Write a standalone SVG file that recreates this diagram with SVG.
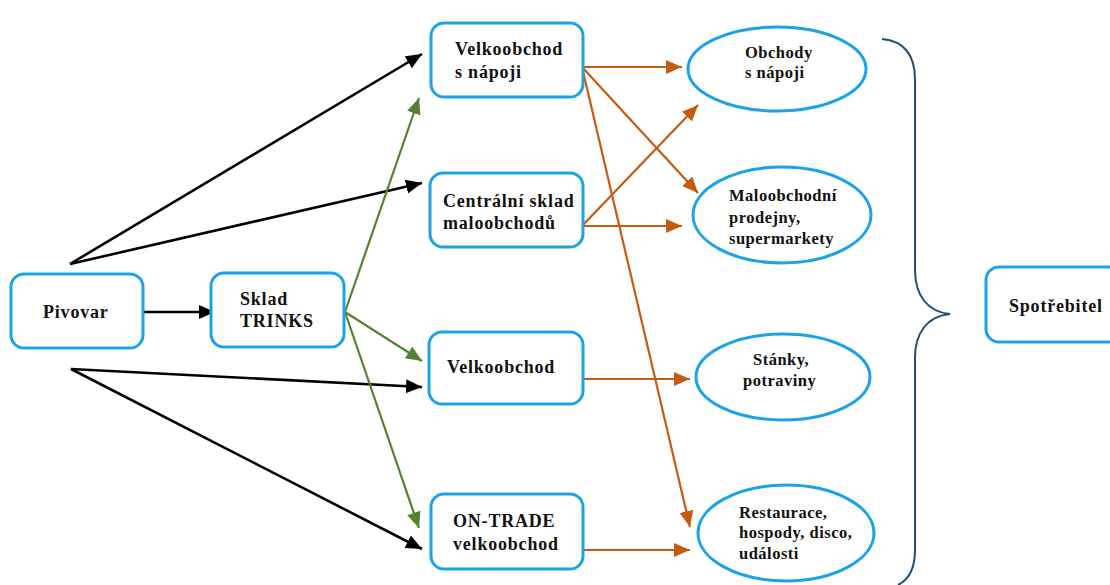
<svg xmlns="http://www.w3.org/2000/svg" width="1110" height="585" viewBox="0 0 1110 585">
<style>
.box{fill:#fff;stroke:#1AA3E6;stroke-width:3}
.t{font-family:"Liberation Serif","Times New Roman",serif;font-weight:bold;font-size:18px;letter-spacing:0.8px;fill:#111}
.te{font-family:"Liberation Serif","Times New Roman",serif;font-weight:bold;font-size:16.5px;letter-spacing:0.5px;fill:#111}
.blk{stroke:#000;stroke-width:2.6;fill:none}
.grn{stroke:#548235;stroke-width:2.2;fill:none}
.org{stroke:#C55A11;stroke-width:2.2;fill:none}
</style>
<defs>
<marker id="ab" markerUnits="userSpaceOnUse" markerWidth="20" markerHeight="20" refX="16" refY="7" orient="auto"><path d="M0,0 L16,7 L0,14 Z" fill="#000"/></marker>
<marker id="ag" markerUnits="userSpaceOnUse" markerWidth="20" markerHeight="20" refX="16" refY="7" orient="auto"><path d="M0,0 L16,7 L0,14 Z" fill="#548235"/></marker>
<marker id="ao" markerUnits="userSpaceOnUse" markerWidth="20" markerHeight="20" refX="16" refY="7" orient="auto"><path d="M0,0 L16,7 L0,14 Z" fill="#C55A11"/></marker>
</defs>
<g id="connectors">
<line class="blk" x1="143" y1="312" x2="215" y2="312" marker-end="url(#ab)"/>
<line class="blk" x1="70" y1="264" x2="422" y2="54" marker-end="url(#ab)"/>
<line class="blk" x1="70" y1="264" x2="422" y2="183" marker-end="url(#ab)"/>
<line class="blk" x1="71" y1="369" x2="422" y2="387" marker-end="url(#ab)"/>
<line class="blk" x1="71" y1="369" x2="422" y2="549" marker-end="url(#ab)"/>
<line class="grn" x1="345" y1="312" x2="419" y2="98" marker-end="url(#ag)"/>
<line class="grn" x1="345" y1="312" x2="422" y2="361" marker-end="url(#ag)"/>
<line class="grn" x1="345" y1="312" x2="419" y2="528" marker-end="url(#ag)"/>
<line class="org" x1="582" y1="67" x2="682" y2="67" marker-end="url(#ao)"/>
<line class="org" x1="582" y1="67" x2="698" y2="193" marker-end="url(#ao)"/>
<line class="org" x1="582" y1="67" x2="690" y2="527" marker-end="url(#ao)"/>
<line class="org" x1="582" y1="226" x2="682" y2="226" marker-end="url(#ao)"/>
<line class="org" x1="582" y1="226" x2="698" y2="105" marker-end="url(#ao)"/>
<line class="org" x1="583" y1="379" x2="690" y2="379" marker-end="url(#ao)"/>
<line class="org" x1="583" y1="550" x2="690" y2="550" marker-end="url(#ao)"/>
<path d="M882,39 C905,41 915,56 915,80 L915,270 C915,296 928,312 950,314 C928,316 915,332 915,358 L915,550 C915,570 908,580 898,585" fill="none" stroke="#1F4E79" stroke-width="2"/>
</g>
<g id="pivovar"><rect class="box" x="11" y="274" width="132" height="74" rx="13"/><text class="t" x="43" y="318">Pivovar</text></g>
<g id="sklad"><rect class="box" x="211" y="273" width="133" height="74" rx="13"/><text class="t" x="240" y="305">Sklad</text><text class="t" x="240" y="327">TRINKS</text></g>
<g id="velkoobchod-napoje"><rect class="box" x="431" y="23" width="152" height="74" rx="13"/><text class="t" x="455" y="55">Velkoobchod</text><text class="t" x="455" y="78">s nápoji</text></g>
<g id="centralni-sklad"><rect class="box" x="430" y="173" width="153" height="74" rx="13"/><text class="t" x="443" y="207">Centrální sklad</text><text class="t" x="443" y="229">maloobchodů</text></g>
<g id="velkoobchod"><rect class="box" x="429" y="332" width="154" height="72" rx="13"/><text class="t" x="447" y="373">Velkoobchod</text></g>
<g id="on-trade"><rect class="box" x="431" y="494" width="152" height="75" rx="13"/><text class="t" x="453" y="527">ON-TRADE</text><text class="t" x="453" y="550">velkoobchod</text></g>
<g id="obchody"><ellipse class="box" cx="777" cy="69" rx="89" ry="42"/><text class="te" x="745" y="58">Obchody</text><text class="te" x="745" y="78">s nápoji</text></g>
<g id="maloobchodni"><ellipse class="box" cx="782" cy="215" rx="89" ry="48"/><text class="te" x="729" y="201">Maloobchodní</text><text class="te" x="729" y="223">prodejny,</text><text class="te" x="729" y="244">supermarkety</text></g>
<g id="stanky"><ellipse class="box" cx="783" cy="377" rx="87" ry="43"/><text class="te" x="753" y="365">Stánky,</text><text class="te" x="743" y="386">potraviny</text></g>
<g id="restaurace"><ellipse class="box" cx="786" cy="533" rx="88" ry="48"/><text class="te" x="739" y="518">Restaurace,</text><text class="te" x="739" y="538">hospody, disco,</text><text class="te" x="739" y="559">události</text></g>
<g id="spotrebitel"><rect class="box" x="986" y="267" width="135" height="75" rx="13"/><text class="t" x="1009" y="312">Spotřebitel</text></g>
</svg>
